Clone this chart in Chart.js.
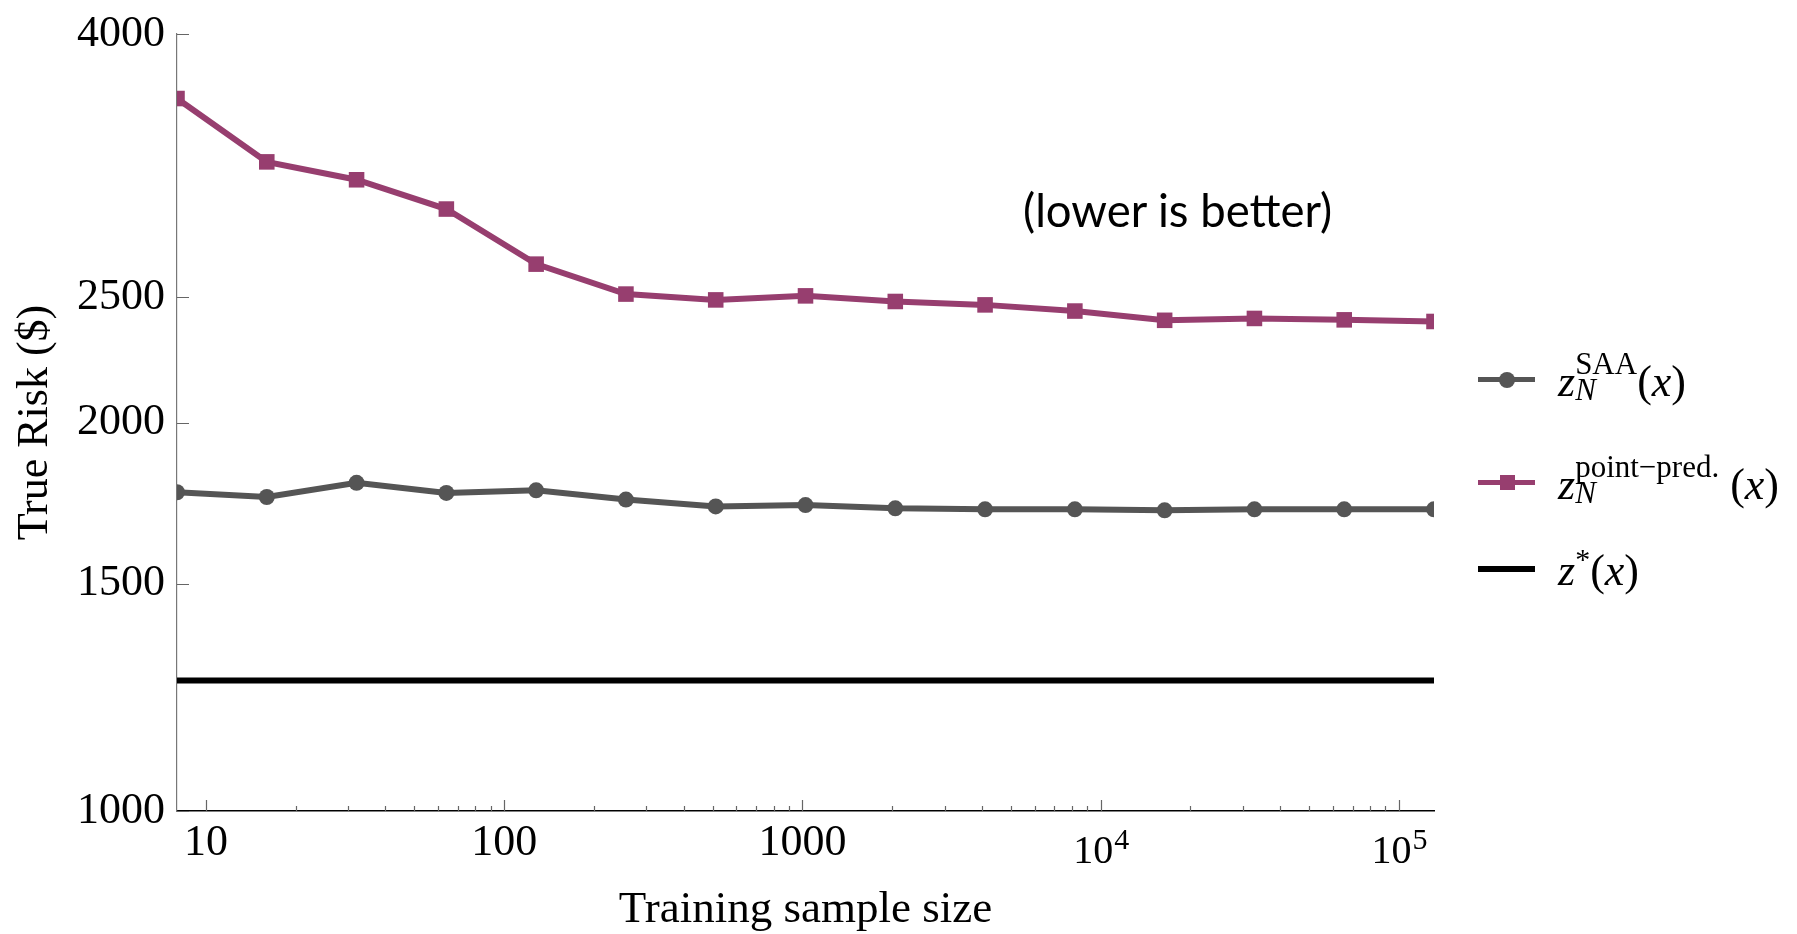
<!DOCTYPE html>
<html>
<head>
<meta charset="utf-8">
<title>True risk vs training sample size</title>
<script src="https://cdn.jsdelivr.net/npm/chart.js@4.4.1/dist/chart.umd.min.js"></script>
<style>
  html, body { margin: 0; padding: 0; background: #fff; }
  #wrap { position: relative; width: 1797px; height: 934px; overflow: hidden; }
  #riskChart { position: absolute; left: 0; top: 0; }
  #note { position: absolute; left: 1023px; font-family: Lato, "Open Sans", sans-serif; color: #000; white-space: nowrap; line-height: 1; }
  .swLine { position: absolute; left: 1478px; width: 57px; }
  .swMark { position: absolute; }
  .legText { position: absolute; left: 1558px; font-family: "Liberation Serif", serif; font-size: 44px; line-height: 44px; white-space: nowrap; color: #000; }
  .legText i { font-family: "Liberation Serif", serif; font-style: italic; }
  .ss { display: inline-block; font-size: 31px; line-height: 26px; vertical-align: -4px; }
  .star { font-size: 30px; position: relative; top: -16px; }
</style>
</head>
<body>
<div id="wrap">
  <canvas id="riskChart" width="1797" height="934"></canvas>

  <div id="note">(lower is better)</div>

  <!-- legend -->
  <div class="swLine" style="top:377px; height:5px; background:#555555;"></div>
  <div class="swMark" style="left:1499px; top:372px; width:16px; height:16px; border-radius:50%; background:#555555;"></div>
  <div class="legText" style="top:351px;"><i>z</i><span class="ss">SAA<br><i>N</i></span>(<i>x</i>)</div>

  <div class="swLine" style="top:480px; height:5px; background:#973e6f;"></div>
  <div class="swMark" style="left:1500px; top:475px; width:15px; height:15px; background:#973e6f;"></div>
  <div class="legText" style="top:454px;"><i>z</i><span class="ss">point−pred.<br><i>N</i></span> (<i>x</i>)</div>

  <div class="swLine" style="top:566px; height:6px; background:#000;"></div>
  <div class="legText" style="top:549px;"><i>z</i><span class="star">*</span>(<i>x</i>)</div>
</div>

<script>
const sampleSizes = [8, 16, 32, 64, 128, 256, 512, 1024, 2048, 4096, 8192, 16384, 32768, 65536, 131072];
const saaRisk = [1766, 1751, 1796, 1764, 1772, 1743, 1722, 1726, 1716, 1713, 1713, 1710, 1713, 1713, 1713];
const pointPredRisk = [3565, 3184, 3084, 2927, 2653, 2515, 2489, 2507, 2482, 2467, 2440, 2400, 2408, 2402, 2395];
const optimalRisk = 1262;

const xTickValues = [10, 100, 1000, 10000, 100000];
const xTickLabels = ['10', '100', '1000', '10', '10'];
const xTickExponents = ['', '', '', '4', '5'];
const yTickValues = [1000, 1500, 2000, 2500, 4000];

function toPoints(values) {
    return sampleSizes.map((n, i) => ({ x: n, y: values[i] }));
}

// tick marks point into the plot, and x labels may carry an exponent
const axisDecor = {
    id: 'axisDecor',
    afterDraw(chart) {
        const { ctx, chartArea } = chart;
        const x = chart.scales.x;
        const y = chart.scales.y;
        ctx.save();
        ctx.lineWidth = 1.2;
        ctx.strokeStyle = '#666';

        ctx.beginPath();
        xTickValues.forEach(v => {
            const px = Math.round(x.getPixelForValue(v)) + 0.5;
            ctx.moveTo(px, chartArea.bottom);
            ctx.lineTo(px, chartArea.bottom - 11);
        });
        for (let d = 10; d <= x.max; d *= 10) {
            for (let m = 2; m <= 9; m++) {
                const v = m * d;
                if (v > x.max) break;
                const px = Math.round(x.getPixelForValue(v)) + 0.5;
                ctx.moveTo(px, chartArea.bottom);
                ctx.lineTo(px, chartArea.bottom - 5);
            }
        }
        yTickValues.forEach(v => {
            const py = Math.round(y.getPixelForValue(v)) + 0.5;
            ctx.moveTo(chartArea.left, py);
            ctx.lineTo(chartArea.left + 12, py);
        });
        ctx.stroke();

        ctx.fillStyle = '#000';
        ctx.textBaseline = 'alphabetic';
        ctx.textAlign = 'left';
        xTickValues.forEach((v, i) => {
            const px = x.getPixelForValue(v);
            const exp = xTickExponents[i];
            if (!exp) {
                ctx.font = '44px "Liberation Serif"';
                const w = ctx.measureText(xTickLabels[i]).width;
                ctx.fillText(xTickLabels[i], px - w / 2, 855);
            } else {
                ctx.font = '40px "Liberation Serif"';
                const wb = ctx.measureText(xTickLabels[i]).width;
                ctx.font = '30px "Liberation Serif"';
                const we = ctx.measureText(exp).width;
                const start = px - (wb + we) / 2;
                ctx.font = '40px "Liberation Serif"';
                ctx.fillText(xTickLabels[i], start, 863);
                ctx.font = '30px "Liberation Serif"';
                ctx.fillText(exp, start + wb + 1, 849);
            }
        });
        ctx.restore();
    }
};

document.addEventListener('DOMContentLoaded', function() {

    const note = document.getElementById('note');
    note.style.fontSize = '44px';
    const noteSize = 44 * 309 / note.offsetWidth;
    note.style.fontSize = noteSize + 'px';
    note.style.top = (214 - 0.59 * noteSize) + 'px';

    const ctx = document.getElementById('riskChart');

    new Chart(ctx, {
        type: 'line',
        data: {
            datasets: [
                {
                    label: 'SAA',
                    data: toPoints(saaRisk),
                    borderColor: '#555555',
                    backgroundColor: '#555555',
                    borderWidth: 6,
                    pointStyle: 'circle',
                    pointRadius: 8,
                    pointBorderWidth: 0,
                    tension: 0,
                    clip: 0
                },
                {
                    label: 'point-pred.',
                    data: toPoints(pointPredRisk),
                    borderColor: '#973e6f',
                    backgroundColor: '#973e6f',
                    borderWidth: 6,
                    pointStyle: 'rect',
                    pointRadius: 11,
                    pointBorderWidth: 0,
                    tension: 0,
                    clip: 0
                },
                {
                    label: 'optimal',
                    data: [
                        { x: sampleSizes[0], y: optimalRisk },
                        { x: sampleSizes[sampleSizes.length - 1], y: optimalRisk }
                    ],
                    borderColor: '#000000',
                    borderWidth: 6,
                    pointRadius: 0,
                    clip: 0
                }
            ]
        },
        options: {
            responsive: false,
            animation: false,
            layout: {
                padding: { left: 0, top: 33, right: 363, bottom: 0 }
            },
            plugins: {
                legend: { display: false },
                tooltip: { enabled: false }
            },
            scales: {
                x: {
                    type: 'logarithmic',
                    min: sampleSizes[0],
                    max: sampleSizes[sampleSizes.length - 1],
                    afterBuildTicks: s => { s.ticks = xTickValues.map(v => ({ value: v })); },
                    afterFit: s => { s.height = 123; },
                    grid: { display: false, drawTicks: false },
                    border: { display: true, color: '#000', width: 1.5 },
                    ticks: { display: false },
                    title: {
                        display: true,
                        text: 'Training sample size',
                        color: '#000',
                        font: { family: 'Liberation Serif', size: 45, lineHeight: 1 },
                        padding: { top: 0, bottom: 1.5 }
                    }
                },
                y: {
                    type: 'logarithmic',
                    min: 1000,
                    max: 4000,
                    afterBuildTicks: s => { s.ticks = yTickValues.map(v => ({ value: v })); },
                    afterFit: s => { s.width = 177; },
                    grid: { display: false, drawTicks: false },
                    border: { display: true, color: '#777', width: 1.2 },
                    ticks: {
                        autoSkip: false,
                        color: '#000',
                        padding: 12,
                        font: { family: 'Liberation Serif', size: 44, lineHeight: 1 },
                        callback: v => String(v)
                    },
                    title: {
                        display: true,
                        text: 'True Risk ($)',
                        color: '#000',
                        font: { family: 'Liberation Serif', size: 44, lineHeight: 1 },
                        padding: { top: 13, bottom: 0 }
                    }
                }
            }
        },
        plugins: [axisDecor]
    });

});
</script>
</body>
</html>
